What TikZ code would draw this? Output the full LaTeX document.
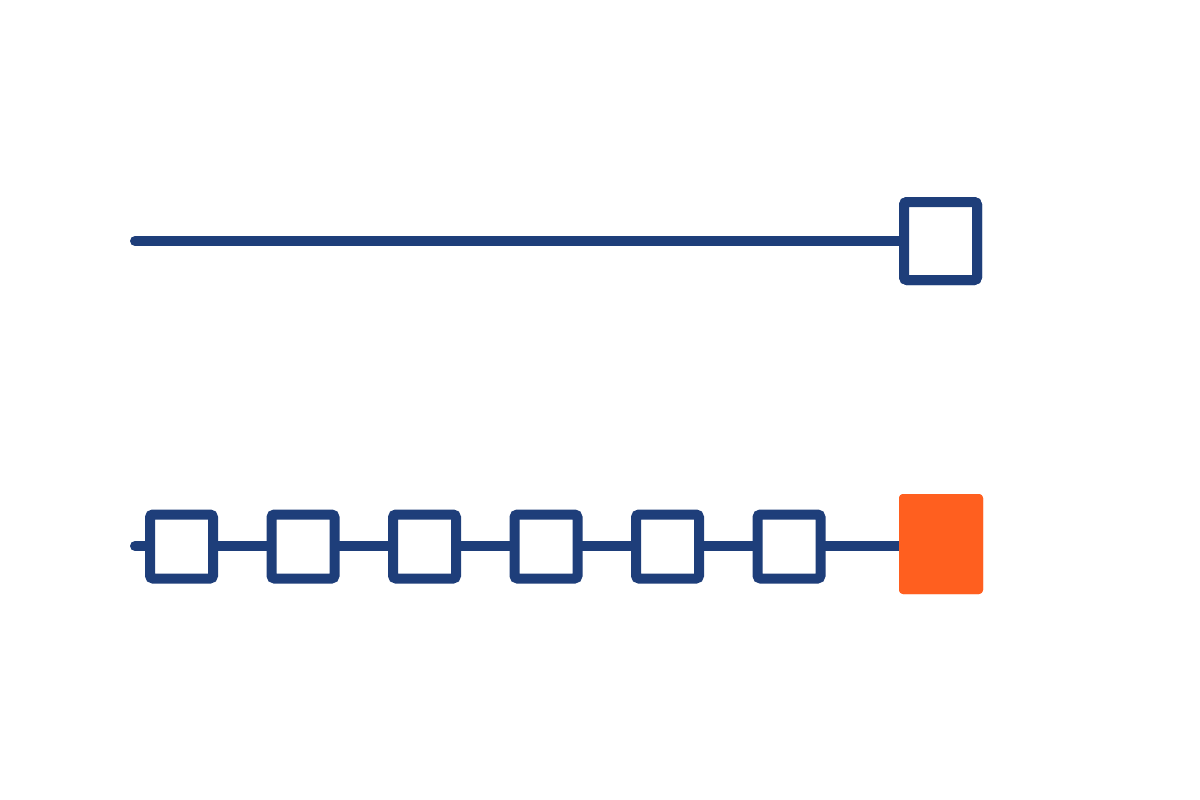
\documentclass[tikz,border=0pt]{standalone}
\definecolor{navy}{RGB}{30,62,122}
\definecolor{orng}{RGB}{255,95,31}
\tikzset{
  link/.style={draw=navy,line width=10pt,line cap=round},
  sbox/.style={draw=navy,fill=white,line width=10pt,rounded corners=3pt,minimum width=63pt,minimum height=64pt,inner sep=0pt,outer sep=0pt},
  bigbox/.style={draw=navy,fill=white,line width=10pt,rounded corners=3pt,minimum width=73pt,minimum height=78pt,inner sep=0pt,outer sep=0pt},
  hotbox/.style={fill=orng,rounded corners=4pt,minimum width=84pt,minimum height=100pt,inner sep=0pt,outer sep=0pt}
}
\begin{document}
\begin{tikzpicture}[x=1pt,y=-1pt]
\useasboundingbox (0,0) rectangle (1200,800);
% top row
\coordinate (ts) at (135,241);
\node[bigbox] (tb) at (940.5,241) {};
\draw[link] (ts) -- (tb.west);
\node[bigbox] at (940.5,241) {};
% bottom row
\coordinate (bs) at (135,546);
\node[hotbox] (ob) at (941,544) {};
\draw[link] (bs) -- (ob.west |- bs);
\node[hotbox] at (941,544) {};
\foreach \i/\x in {1/181.5,2/303,3/424.5,4/546,5/667.5,6/789}{
  \node[sbox] (b\i) at (\x,546.5) {};
}
\end{tikzpicture}
\end{document}
